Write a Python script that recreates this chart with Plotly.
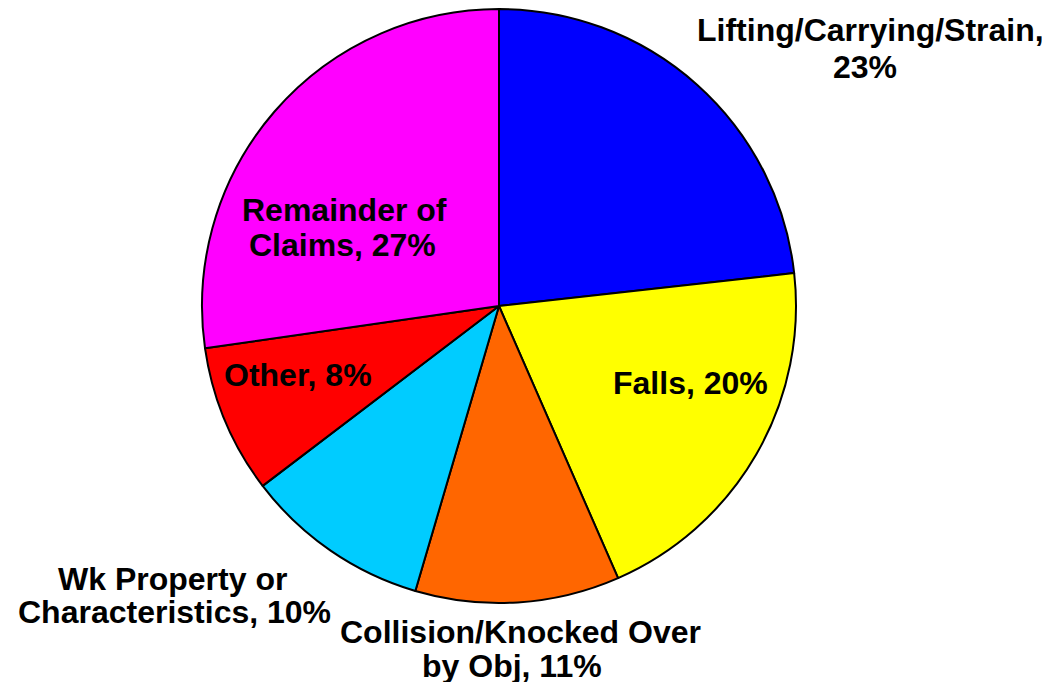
import plotly.graph_objects as go

categories = ["Lifting/Carrying/Strain", "Falls", "Collision/Knocked Over by Obj",
              "Wk Property or Characteristics", "Other", "Remainder of Claims"]
values = [23, 20, 11, 10, 8, 27]
colors = ["#0000FF", "#FFFF00", "#FF6600", "#00CCFF", "#FF0000", "#FF00FF"]

# label lines: (text, x_px center, baseline_px) in page pixels
label_lines = [
    ("Lifting/Carrying/Strain,", 870, 39.5),
    ("23%", 865, 76.5),
    ("Falls, 20%", 690, 392),
    ("Collision/Knocked Over", 520, 641.5),
    ("by Obj, 11%", 512, 675),
    ("Wk Property or", 172, 588),
    ("Characteristics, 10%", 174, 621),
    ("Other, 8%", 298, 384),
    ("Remainder of", 344, 219),
    ("Claims, 27%", 342, 254),
]

W, H = 1050, 682
OFF = 8  # page body margin
cx, cy, r = 499 - OFF, 306 - OFF, 297
FS = 32

fig = go.Figure(go.Pie(
    labels=categories, values=values, sort=False, direction="clockwise", rotation=0,
    marker=dict(colors=colors, line=dict(color="black", width=2)),
    textinfo="none", hoverinfo="label+percent", showlegend=False,
    domain=dict(x=[(cx - r) / W, (cx + r) / W], y=[1 - (cy + r) / H, 1 - (cy - r) / H]),
))

for txt, x, base in label_lines:
    fig.add_annotation(
        text="<b>%s</b>" % txt, x=(x - OFF) / W, y=1 - (base - OFF - 0.29 * FS) / H,
        xref="paper", yref="paper", xanchor="center", yanchor="middle",
        showarrow=False, font=dict(family="Liberation Sans, Arial, sans-serif", size=FS, color="black"),
    )

fig.update_layout(width=W, height=H, margin=dict(l=0, r=0, t=0, b=0),
                  paper_bgcolor="white", plot_bgcolor="white")
fig.write_html("out.html")
